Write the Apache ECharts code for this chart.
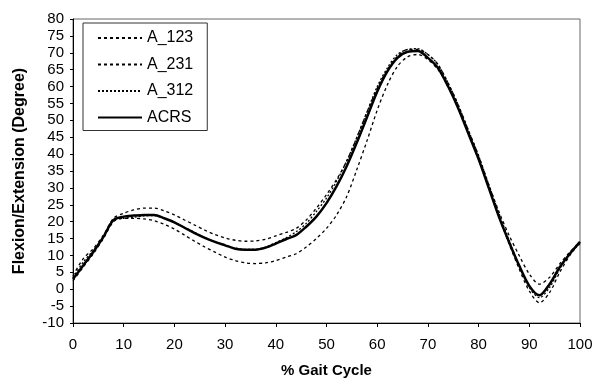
<!DOCTYPE html>
<html><head><meta charset="utf-8">
<script src="https://cdn.jsdelivr.net/npm/echarts@6/dist/echarts.min.js"></script>
<style>html,body{margin:0;padding:0;background:#fff}#c{width:603px;height:383px}</style>
</head><body><div id="c"></div>
<script>
const gait = [0,2,4,6,8,10,12,14,16,18,20,22,24,26,28,30,32,34,36,38,40,42,44,46,48,50,52,54,56,58,60,62,64,66,68,70,72,74,76,78,80,82,84,86,88,90,92,94,96,98,100];
const A_123 = [4,9,12,16,21,22.5,23.5,24,24,23.2,22,20.5,19,17.5,16.2,15.2,14.5,14.2,14.3,14.8,15.8,16.8,18,20.5,24,28,32.5,38,45,52.5,59.5,65,69,71,71,69.5,66.5,61,54.5,47,39.5,31,23,16,10,4.5,1.5,3.5,7.5,11,14];
const A_231 = [2.5,6.5,10.5,15,20,21,21,20.8,20.3,19.2,17.8,16,14.2,12.5,11,9.5,8.5,7.8,7.6,7.8,8.5,9.5,10.5,12.5,15,18,22,27.5,35.5,44,53,60.5,66,68.8,69.5,68,65,60,53.5,46,38.5,30,21.5,13.5,6,-0.5,-4,-1,5,10,14];
const A_312 = [3.5,8,11.5,15.5,20.5,21,21.3,21.7,21.8,21,19.8,18.3,16.8,15.3,14,13,12.2,11.8,11.8,12.5,13.8,15.2,17,19.5,23,27,32,38,45,52.5,60,65.5,69.5,71,71.2,69.5,66.5,61,54.5,47,39.5,31,22.5,14.5,7,0.5,-2.5,0.5,6,10.5,13.5];
const ACRS = [3,7,11,15.5,20.5,21.5,21.8,22,22,21,19.8,18.2,16.6,15.2,14,13,12,11.7,11.7,12.3,13.5,14.8,16,18.5,21.5,25.5,30.5,36.5,43.5,51,58.5,64.5,68.5,70.3,70.5,68.5,65.5,60,53.5,46,38.5,30,21.5,14,7,1,-1.8,1.5,6.5,10.5,14];

const pairs = a => gait.map((x,i)=>[x,a[i]]);
const chart = echarts.init(document.getElementById('c'));
const font = 'Liberation Sans, Arial, sans-serif';
function ser(name, data, type, w){
  return {name, type:'line', data:pairs(data), symbol:'none', smooth:0.3,
    lineStyle:{color:'#000', width:w, type:type}, itemStyle:{color:'#000'}};
}
chart.setOption({
  animation:false,
  grid:{left:73, right:23, top:19, bottom:56, show:true, borderColor:'#666', borderWidth:1},
  xAxis:{type:'value', min:0, max:100, interval:10,
    name:'% Gait Cycle', nameLocation:'middle', nameGap:40,
    nameTextStyle:{fontFamily:font, fontSize:15, fontWeight:'bold', color:'#000'},
    axisLine:{onZero:false, lineStyle:{color:'#000', width:1}},
    axisTick:{show:true, length:4, lineStyle:{color:'#000'}},
    axisLabel:{fontFamily:font, fontSize:15, color:'#000', margin:14},
    splitLine:{show:false}},
  yAxis:{type:'value', min:-10, max:80, interval:5,
    name:'Flexion/Extension (Degree)', nameLocation:'middle', nameGap:45,
    nameTextStyle:{fontFamily:font, fontSize:16, fontWeight:'bold', color:'#000'},
    axisLine:{show:true, onZero:false, lineStyle:{color:'#000', width:1}},
    axisTick:{show:true, length:3, lineStyle:{color:'#000'}},
    axisLabel:{fontFamily:font, fontSize:15, color:'#000', margin:9},
    splitLine:{show:false}},
  legend:{left:83, top:23, orient:'vertical', width:122,
    borderColor:'#333', borderWidth:1, padding:[7,14,5,14], itemGap:10.5,
    itemWidth:44, itemHeight:14,
    itemStyle:{opacity:0},
    textStyle:{fontFamily:font, fontSize:16, color:'#000', padding:[0,0,0,0]},
    data:['A_123','A_231','A_312','ACRS']},
  series:[
    ser('A_123', A_123, [3,3], 1.3),
    ser('A_231', A_231, [3,3], 1.3),
    ser('A_312', A_312, [2,2], 1.3),
    ser('ACRS', ACRS, 'solid', 2.5)
  ]
});
</script></body></html>
